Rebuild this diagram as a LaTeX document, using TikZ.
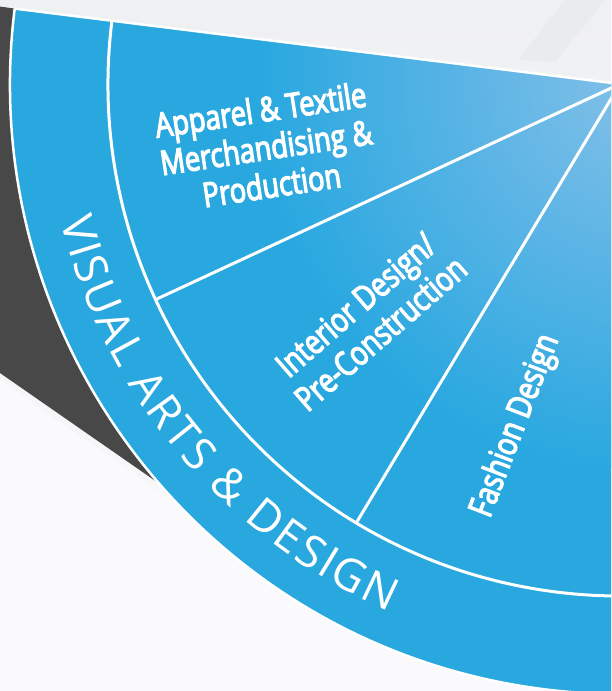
\documentclass[tikz,border=0pt]{standalone}
\usepackage{fontspec}
\setmainfont{Open Sans}
\newfontfamily\bandfont{Open Sans}
\newfontfamily\labelfont[FakeBold=3.5, FakeStretch=0.8]{Open Sans}
\usetikzlibrary{calc,decorations.text}

\definecolor{wheel}{HTML}{29A8E0}
\definecolor{wheellight}{HTML}{86C1E9}
\definecolor{wheelmid}{HTML}{5DB5E5}
\definecolor{shadowgray}{HTML}{484848}
\definecolor{paper}{HTML}{EFF0F2}
\definecolor{paperlight}{HTML}{FAFAFC}
\definecolor{paperstripe}{HTML}{E9EBEE}

% radial glow: stops up to 25bp span the shaded circle
\pgfdeclareradialshading{glow}{\pgfpoint{0bp}{0bp}}{%
  color(0bp)=(wheellight); color(11bp)=(wheelmid); color(25bp)=(wheel); color(50bp)=(wheel)}

\newcommand\bandtext{\bandfont\fontsize{45}{45}\selectfont}

\tikzset{
  divider/.style={draw=white, line width=3pt},
  rim/.style={draw=white, line width=2.5pt},
  sectorlabel/.style={text=white, font=\labelfont\fontsize{34}{38}\selectfont,
    align=center, inner sep=0pt},
}

\begin{document}
\begin{tikzpicture}[x=1pt, y=-1pt]
  \useasboundingbox (0,0) rectangle (611,691);
  \clip (0,0) rectangle (611,691);

  % backdrop
  \shade[top color=paper, bottom color=paperlight] (0,0) rectangle (611,691);
  \fill[paperlight] (0,380) -- (200,520) -- (611,691) -- (0,691) -- cycle;
  \fill[paperstripe] (565,0) -- (605,0) -- (555,62) -- (518,60) -- cycle;

  % wheel centre and radii
  \coordinate (C) at (620,84);
  \def\wheelin{512}
  \def\wheelout{610}

  \coordinate (topout) at ($(C)+(187.1:\wheelout)$);
  \coordinate (topin)  at ($(C)+(187.1:\wheelin)$);
  \coordinate (spokeA) at ($(C)+(155.1:\wheelin)$);
  \coordinate (spokeB) at ($(C)+(121:\wheelin)$);

  % dark side panel
  \fill[shadowgray] (0,6.5) -- (topout)
    arc[start angle=187.1, end angle=139.1, radius=\wheelout]
    -- (0,373) -- cycle;

  % blue sector with a light glow toward the hub
  \fill[wheel] (C) -- (topout)
    arc[start angle=187.1, end angle=60, radius=\wheelout] -- cycle;
  \begin{scope}
    \clip (C) -- (topout)
      arc[start angle=187.1, end angle=60, radius=\wheelout] -- cycle;
    \shade[shading=glow] (650,80) circle (390);
  \end{scope}

  % white rules
  \draw[rim] (topout) -- (C);
  \draw[rim] (topout) arc[start angle=187.1, end angle=60, radius=\wheelout];
  \draw[divider] (topin) arc[start angle=187.1, end angle=60, radius=\wheelin];
  \draw[divider] (C) -- (spokeA);
  \draw[divider] (C) -- (spokeB);

  % ring title
  \path[decorate, decoration={text along path, text align=fit to path,
      text color=white, text={|\bandtext|VISUAL ARTS {\&} DESIGN}}]
    ($(C)+(166.3:576)$) arc[start angle=166.3, end angle=113.6, radius=576];

  % sector labels
  \node[sectorlabel, rotate=8.5] (apparel) at (266,147)
    {Apparel \& Textile\\Merchandising \&\\Production};
  \node[sectorlabel, rotate=41] (interior) at (368,319)
    {Interior Design/\\Pre-Construction};
  \node[sectorlabel, rotate=69] (fashion) at (516,426) {Fashion Design};
\end{tikzpicture}
\end{document}
